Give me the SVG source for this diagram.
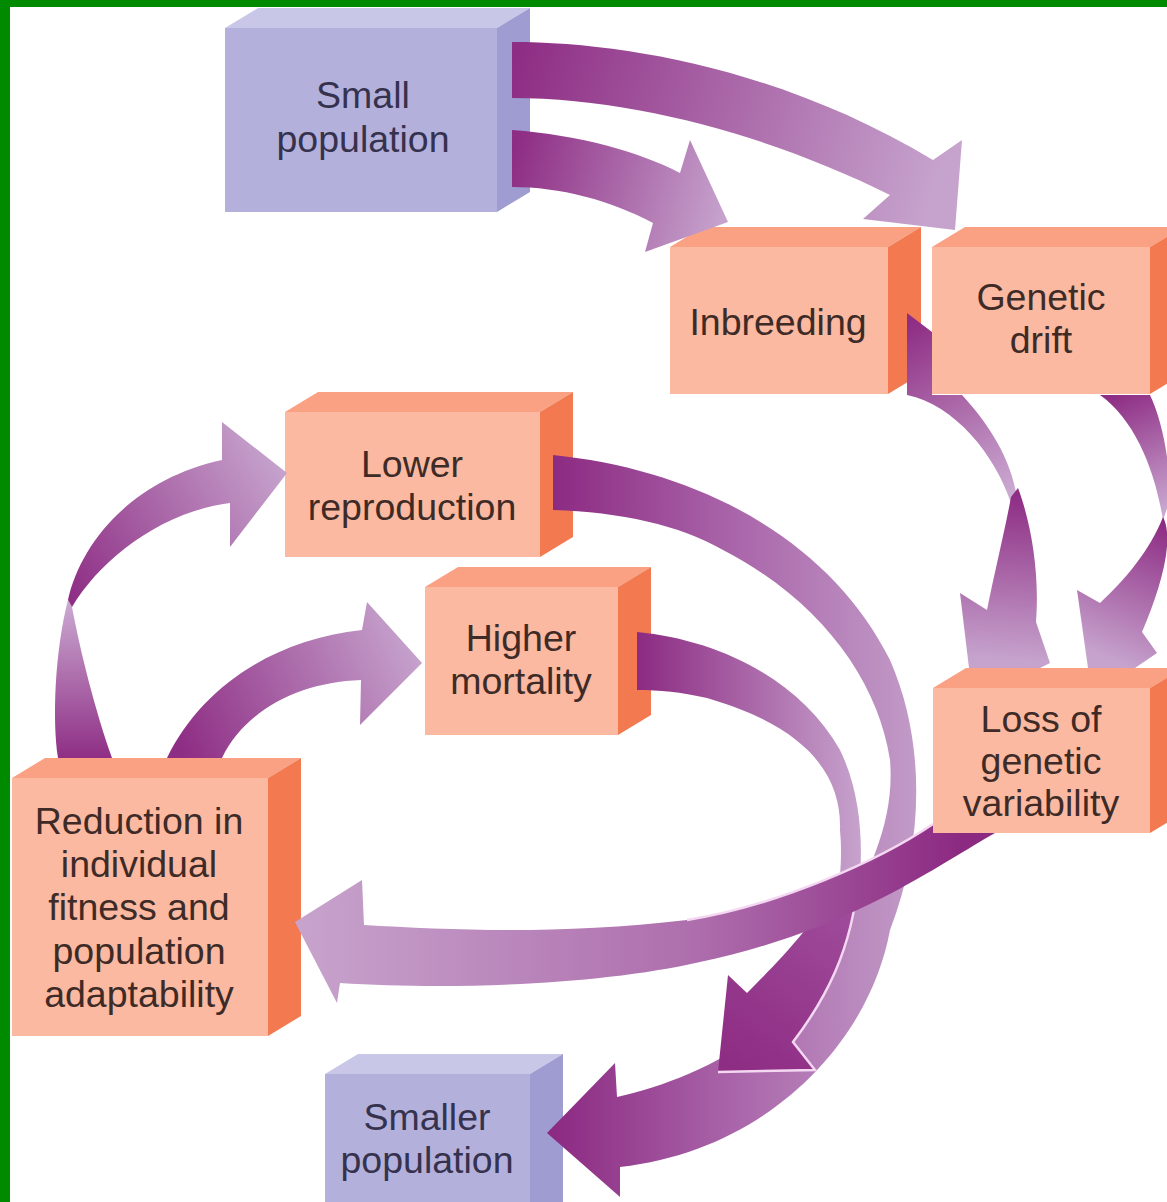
<svg xmlns="http://www.w3.org/2000/svg" width="1167" height="1202" viewBox="0 0 1167 1202">
<defs>
<style>
.sf{fill:#FAB9A0}.st{fill:#F9A182}.sr{fill:#F37A50}
.bf{fill:#B3B1DC}.bt{fill:#C9C7E8}.br{fill:#9E9CD1}
.lbl{font-family:'Liberation Sans',Arial,sans-serif;font-size:37.5px;text-anchor:middle}
.ls{fill:#3e2b27}.lb{fill:#36324e}
.edge{fill:none;stroke:#F4D8F2;stroke-width:2.5}
</style>
<linearGradient id="g1" gradientUnits="userSpaceOnUse" x1="512" y1="70" x2="935" y2="190"><stop offset="0" stop-color="#8E2D84"/><stop offset="1" stop-color="#C6A3CD"/></linearGradient>
<linearGradient id="g2" gradientUnits="userSpaceOnUse" x1="512" y1="158" x2="725" y2="215"><stop offset="0" stop-color="#8E2D84"/><stop offset="1" stop-color="#C6A3CD"/></linearGradient>
<linearGradient id="g3u" gradientUnits="userSpaceOnUse" x1="915" y1="320" x2="1012" y2="495"><stop offset="0" stop-color="#8E2D84"/><stop offset="1" stop-color="#CBABD2"/></linearGradient>
<linearGradient id="g3l" gradientUnits="userSpaceOnUse" x1="1015" y1="495" x2="1005" y2="660"><stop offset="0" stop-color="#8E2D84"/><stop offset="1" stop-color="#C6A3CD"/></linearGradient>
<linearGradient id="g4u" gradientUnits="userSpaceOnUse" x1="1115" y1="395" x2="1165" y2="515"><stop offset="0" stop-color="#8E2D84"/><stop offset="1" stop-color="#CBABD2"/></linearGradient>
<linearGradient id="g4l" gradientUnits="userSpaceOnUse" x1="1165" y1="525" x2="1110" y2="660"><stop offset="0" stop-color="#8E2D84"/><stop offset="1" stop-color="#C6A3CD"/></linearGradient>
<linearGradient id="g5" gradientUnits="userSpaceOnUse" x1="553" y1="0" x2="920" y2="0"><stop offset="0" stop-color="#8C2A82"/><stop offset="0.5" stop-color="#AA66AA"/><stop offset="1" stop-color="#C29CC8"/></linearGradient>
<linearGradient id="g6u" gradientUnits="userSpaceOnUse" x1="637" y1="0" x2="860" y2="0"><stop offset="0" stop-color="#8C2A82"/><stop offset="1" stop-color="#C6A2CC"/></linearGradient>
<linearGradient id="g6l" gradientUnits="userSpaceOnUse" x1="845" y1="900" x2="730" y2="1060"><stop offset="0" stop-color="#A04C9B"/><stop offset="1" stop-color="#8E2D84"/></linearGradient>
<linearGradient id="g7" gradientUnits="userSpaceOnUse" x1="960" y1="0" x2="300" y2="0"><stop offset="0" stop-color="#8C2A82"/><stop offset="0.4" stop-color="#AE6EAD"/><stop offset="1" stop-color="#C7A3CC"/></linearGradient>
<linearGradient id="g8l" gradientUnits="userSpaceOnUse" x1="0" y1="760" x2="0" y2="600"><stop offset="0" stop-color="#8E2D84"/><stop offset="1" stop-color="#CBABD2"/></linearGradient>
<linearGradient id="g8u" gradientUnits="userSpaceOnUse" x1="70" y1="600" x2="285" y2="470"><stop offset="0" stop-color="#8E2D84"/><stop offset="1" stop-color="#C6A3CD"/></linearGradient>
<linearGradient id="g9" gradientUnits="userSpaceOnUse" x1="185" y1="760" x2="420" y2="655"><stop offset="0" stop-color="#8E2D84"/><stop offset="1" stop-color="#C6A3CD"/></linearGradient>
</defs>
<rect x="0" y="0" width="1167" height="1202" fill="#FFFFFF"/>

<g id="small-population">
<rect class="bf" x="225" y="28" width="272" height="184"/>
<polygon class="bt" points="225,28 258,8 530,8 497,28"/>
<polygon class="br" points="497,28 530,8 530,192 497,212"/>
<text class="lbl lb" x="363" y="108">Small</text>
<text class="lbl lb" x="363" y="152">population</text>
</g>
<g id="inbreeding">
<rect class="sf" x="670" y="247" width="218" height="147"/>
<polygon class="st" points="670,247 703,227 921,227 888,247"/>
<polygon class="sr" points="888,247 921,227 921,374 888,394"/>
<text class="lbl ls" x="778" y="335">Inbreeding</text>
</g>
<g id="genetic-drift">
<rect class="sf" x="932" y="247" width="218" height="147"/>
<polygon class="st" points="932,247 965,227 1183,227 1150,247"/>
<polygon class="sr" points="1150,247 1183,227 1183,374 1150,394"/>
<text class="lbl ls" x="1041" y="310">Genetic</text>
<text class="lbl ls" x="1041" y="353">drift</text>
</g>
<g id="lower-reproduction">
<rect class="sf" x="285" y="412" width="255" height="145"/>
<polygon class="st" points="285,412 318,392 573,392 540,412"/>
<polygon class="sr" points="540,412 573,392 573,537 540,557"/>
<text class="lbl ls" x="412" y="477">Lower</text>
<text class="lbl ls" x="412" y="520">reproduction</text>
</g>
<g id="higher-mortality">
<rect class="sf" x="425" y="587" width="193" height="148"/>
<polygon class="st" points="425,587 458,567 651,567 618,587"/>
<polygon class="sr" points="618,587 651,567 651,715 618,735"/>
<text class="lbl ls" x="521" y="651">Higher</text>
<text class="lbl ls" x="521" y="694">mortality</text>
</g>
<g id="loss-of-genetic-variability">
<rect class="sf" x="933" y="688" width="217" height="145"/>
<polygon class="st" points="933,688 966,668 1183,668 1150,688"/>
<polygon class="sr" points="1150,688 1183,668 1183,813 1150,833"/>
<text class="lbl ls" x="1041" y="732">Loss of</text>
<text class="lbl ls" x="1041" y="774">genetic</text>
<text class="lbl ls" x="1041" y="816">variability</text>
</g>
<g id="reduction-in-fitness">
<rect class="sf" x="12" y="778" width="256" height="258"/>
<polygon class="st" points="12,778 45,758 301,758 268,778"/>
<polygon class="sr" points="268,778 301,758 301,1016 268,1036"/>
<text class="lbl ls" x="139" y="834">Reduction in</text>
<text class="lbl ls" x="139" y="877">individual</text>
<text class="lbl ls" x="139" y="920">fitness and</text>
<text class="lbl ls" x="139" y="964">population</text>
<text class="lbl ls" x="139" y="1007">adaptability</text>
</g>
<g id="smaller-population">
<rect class="bf" x="325" y="1074" width="205" height="130"/>
<polygon class="bt" points="325,1074 358,1054 563,1054 530,1074"/>
<polygon class="br" points="530,1074 563,1054 563,1204 530,1204"/>
<text class="lbl lb" x="427" y="1130">Smaller</text>
<text class="lbl lb" x="427" y="1173">population</text>
</g>

<g id="connectors">
<path id="c-small-drift" fill="url(#g1)" d="M512,42 C620,42 780,68 933,160 L962,140 L955,230 L863,219 L890,195 C780,140 640,98 512,98 Z"/>
<path id="c-small-inbreeding" fill="url(#g2)" d="M512,130 C580,135 640,152 680,173 L690,140 L728,222 L645,252 L653,223 C610,200 560,187 512,187 Z"/>
<g id="c-inbreeding-loss">
<path fill="url(#g3u)" d="M907,313 L932,332 L932,395 L962,395 C985,420 1008,452 1016,492 L1011,503 C995,455 955,405 907,395 Z"/>
<path fill="url(#g3l)" d="M1011,497 L1018,488 C1030,520 1040,570 1036,622 L1050,663 L1040,668 L969,668 L960,593 L987,610 C995,570 1005,530 1011,497 Z"/>
</g>
<g id="c-drift-loss">
<path fill="url(#g4u)" d="M1100,395 L1150,395 C1162,420 1170,460 1170,500 L1163,520 C1155,470 1135,420 1100,395 Z"/>
<path fill="url(#g4l)" d="M1163,517 C1175,540 1160,590 1142,632 L1157,653 L1135,668 L1088,668 L1077,590 L1100,603 C1125,580 1150,550 1163,517 Z"/>
</g>
<g id="c-reduction-lower">
<path fill="url(#g8l)" d="M58,758 C52,720 55,650 68,600 L72,607 C80,650 95,710 112,758 Z"/>
<path fill="url(#g8u)" d="M68,600 C80,545 130,480 222,460 L222,422 L287,473 L230,547 L230,503 C160,512 100,560 72,607 Z"/>
</g>
<path id="c-reduction-higher" fill="url(#g9)" d="M167,758 C200,690 270,640 362,630 L367,602 L422,663 L360,725 L361,680 C300,682 245,710 222,758 Z"/>
<path id="c-lower-smaller" fill="url(#g5)" d="M553,455 C700,470 830,540 890,660 C925,740 925,840 890,930 C870,1040 770,1150 620,1167 L620,1197 L547,1133 L615,1063 L617,1097 C690,1080 790,1040 840,930 C870,870 895,820 890,760 C878,680 820,600 723,550 C680,525 620,512 553,510 Z"/>
<g id="c-higher-smaller">
<path fill="url(#g6u)" d="M637,632 C720,640 800,680 840,750 C862,795 864,850 858,895 L838,895 C841,870 842,850 840,830 C842,770 800,725 707,698 C680,692 660,690 637,690 Z"/>
<path fill="url(#g6l)" d="M858,880 C852,950 825,1000 793,1042 L815,1070 L718,1072 L728,975 L747,993 C775,965 820,920 836,880 Z"/>
<path class="edge" d="M858,880 C852,950 825,1000 793,1042 L815,1070 L718,1072"/>
</g>
<g id="c-loss-reduction">
<path fill="url(#g7)" d="M995,833 C930,870 850,930 700,962 C600,985 450,990 340,983 L337,1003 L295,922 L362,880 L364,925 C450,930 560,935 687,920 C780,905 880,860 933,824 L933,833 Z"/>
<path class="edge" stroke-width="2" d="M687,920 C780,905 880,860 933,824"/>
</g>
</g>

<rect x="0" y="0" width="10" height="1202" fill="#008A00"/>
<rect x="0" y="0" width="1167" height="7" fill="#008A00"/>
</svg>
